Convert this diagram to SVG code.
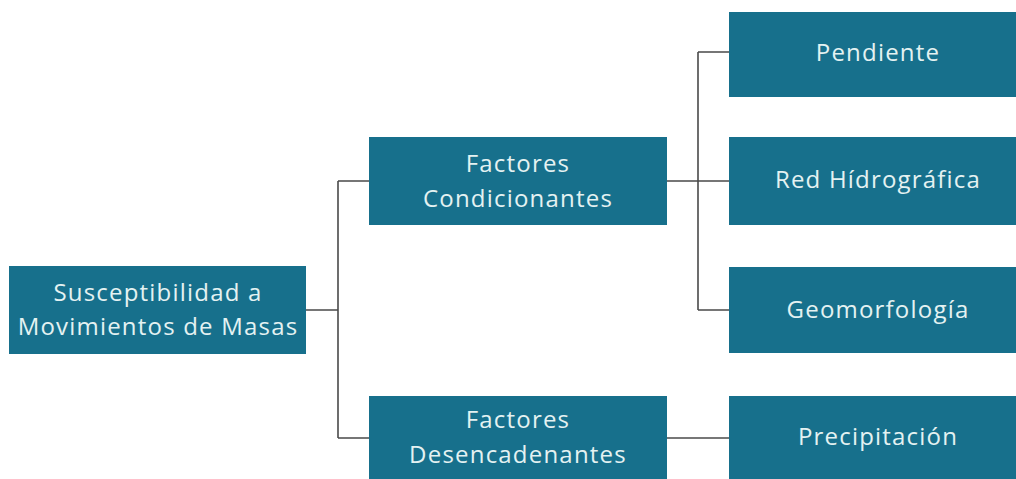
<svg xmlns="http://www.w3.org/2000/svg" width="1016" height="479" viewBox="0 0 1016 479">
<style>
.box{fill:#17708c}
.t{font-family:"Open Sans","Noto Sans",sans-serif;font-size:24px;fill:#e4f2f2;text-anchor:middle;letter-spacing:1.2px}
.c{fill:none;stroke:#4a4a4a;stroke-width:1.6}
</style>
<rect width="1016" height="479" fill="#ffffff"/>
<g id="connectors">
<path class="c" d="M306 310H338M338 181V438M338 181H369M338 438H369"/>
<path class="c" d="M667 181H698M698 52V310M698 52H729M698 181H729M698 310H729"/>
<path class="c" d="M667 438H729"/>
</g>
<g id="root"><rect class="box" x="9" y="266" width="297" height="88"/>
<text class="t" x="158" y="301">Susceptibilidad a</text><text class="t" x="158" y="335">Movimientos de Masas</text></g>
<g id="condicionantes"><rect class="box" x="369" y="137" width="298" height="88"/>
<text class="t" x="518" y="172">Factores</text><text class="t" x="518" y="207">Condicionantes</text></g>
<g id="desencadenantes"><rect class="box" x="369" y="396" width="298" height="88"/>
<text class="t" x="518" y="428">Factores</text><text class="t" x="518" y="463">Desencadenantes</text></g>
<g id="pendiente"><rect class="box" x="729" y="12" width="300" height="85"/>
<text class="t" x="878" y="61">Pendiente</text></g>
<g id="red"><rect class="box" x="729" y="137" width="300" height="88"/>
<text class="t" x="878" y="188">Red Hídrográfica</text></g>
<g id="geomorfologia"><rect class="box" x="729" y="267" width="300" height="86"/>
<text class="t" x="878" y="318">Geomorfología</text></g>
<g id="precipitacion"><rect class="box" x="729" y="396" width="300" height="88"/>
<text class="t" x="878" y="445">Precipitación</text></g>
</svg>
